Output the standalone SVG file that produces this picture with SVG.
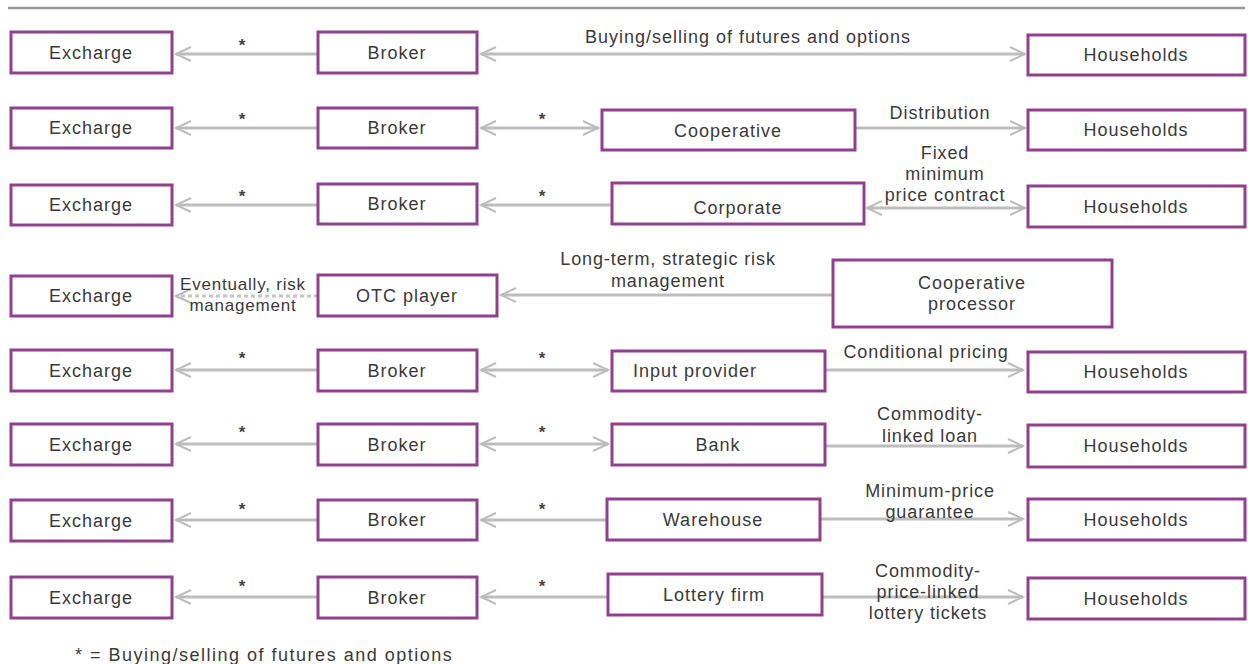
<svg xmlns="http://www.w3.org/2000/svg" width="1248" height="664" viewBox="0 0 1248 664">
<defs>
<marker id="ah" markerUnits="userSpaceOnUse" markerWidth="20" markerHeight="18" viewBox="0 0 20 18" refX="17" refY="9" orient="auto-start-reverse">
<path d="M2,2 L17,9 L2,16" fill="none" stroke="#bdbdbd" stroke-width="2"/>
</marker>
</defs>
<style>
.box{fill:#fff;stroke:#90408e;stroke-width:3}
.t{font-family:"Liberation Sans",Arial,sans-serif;font-size:18px;letter-spacing:1px;fill:#3a3a3a;text-anchor:middle}
.lbl{font-family:"Liberation Sans",Arial,sans-serif;font-size:18px;letter-spacing:0.9px;fill:#3a3a3a;text-anchor:middle}
.lbs{font-family:"Liberation Sans",Arial,sans-serif;font-size:17px;letter-spacing:0.8px;fill:#3a3a3a;text-anchor:middle}
.st{font-family:"Liberation Sans",Arial,sans-serif;font-size:17px;font-weight:bold;fill:#444;text-anchor:middle}
.c{stroke:#bdbdbd;stroke-width:3;fill:none}
.dash{stroke:#c4c4c4;stroke-width:3;fill:none;stroke-dasharray:4 3}
</style>
<rect width="1248" height="664" fill="#fff"/>
<line x1="8" y1="8" x2="1245" y2="8" stroke="#9a9a9a" stroke-width="2.5"/>

<g id="connectors">
<line class="c" x1="318" y1="54" x2="176" y2="54" marker-end="url(#ah)"/>
<line class="c" x1="481" y1="54" x2="1025" y2="54" marker-start="url(#ah)" marker-end="url(#ah)"/>
<line class="c" x1="318" y1="128" x2="176" y2="128" marker-end="url(#ah)"/>
<line class="c" x1="481" y1="128" x2="598" y2="128" marker-start="url(#ah)" marker-end="url(#ah)"/>
<line class="c" x1="855" y1="128" x2="1025" y2="128" marker-end="url(#ah)"/>
<line class="c" x1="318" y1="205" x2="176" y2="205" marker-end="url(#ah)"/>
<line class="c" x1="612" y1="205" x2="481" y2="205" marker-end="url(#ah)"/>
<line class="c" x1="867" y1="208" x2="1025" y2="208" marker-start="url(#ah)" marker-end="url(#ah)"/>
<line class="dash" x1="318" y1="296" x2="176" y2="296" marker-end="url(#ah)"/>
<line class="c" x1="833" y1="295" x2="501" y2="295" marker-end="url(#ah)"/>
<line class="c" x1="318" y1="370" x2="176" y2="370" marker-end="url(#ah)"/>
<line class="c" x1="481" y1="370" x2="608" y2="370" marker-start="url(#ah)" marker-end="url(#ah)"/>
<line class="c" x1="825" y1="370" x2="1023" y2="370" marker-end="url(#ah)"/>
<line class="c" x1="318" y1="444" x2="176" y2="444" marker-end="url(#ah)"/>
<line class="c" x1="481" y1="444" x2="608" y2="444" marker-start="url(#ah)" marker-end="url(#ah)"/>
<line class="c" x1="825" y1="446" x2="1023" y2="446" marker-end="url(#ah)"/>
<line class="c" x1="318" y1="520" x2="176" y2="520" marker-end="url(#ah)"/>
<line class="c" x1="607" y1="520" x2="481" y2="520" marker-end="url(#ah)"/>
<line class="c" x1="820" y1="519" x2="1023" y2="519" marker-end="url(#ah)"/>
<line class="c" x1="318" y1="597" x2="176" y2="597" marker-end="url(#ah)"/>
<line class="c" x1="608" y1="597" x2="481" y2="597" marker-end="url(#ah)"/>
<line class="c" x1="822" y1="597" x2="1023" y2="597" marker-end="url(#ah)"/>

<text class="st" x="242" y="51">*</text>
<text class="st" x="242" y="125">*</text>
<text class="st" x="542" y="125">*</text>
<text class="st" x="242" y="202">*</text>
<text class="st" x="542" y="202">*</text>
<text class="st" x="242" y="364">*</text>
<text class="st" x="542" y="364">*</text>
<text class="st" x="242" y="438">*</text>
<text class="st" x="542" y="438">*</text>
<text class="st" x="242" y="515">*</text>
<text class="st" x="542" y="515">*</text>
<text class="st" x="242" y="592">*</text>
<text class="st" x="542" y="592">*</text>

<text class="t" x="748" y="43">Buying/selling of futures and options</text>
<text class="lbl" x="940" y="119">Distribution</text>
<text class="lbl" x="945" y="159">Fixed</text>
<text class="lbl" x="945" y="180">minimum</text>
<text class="lbl" x="945" y="201">price contract</text>
<text class="lbs" x="243" y="290">Eventually, risk</text>
<text class="lbs" x="243" y="311">management</text>
<text class="lbl" x="668" y="265">Long-term, strategic risk</text>
<text class="lbl" x="668" y="287">management</text>
<text class="lbl" x="926" y="358">Conditional pricing</text>
<text class="lbl" x="930" y="420">Commodity-</text>
<text class="lbl" x="930" y="442">linked loan</text>
<text class="lbl" x="930" y="497">Minimum-price</text>
<text class="lbl" x="930" y="518">guarantee</text>
<text class="lbl" x="928" y="577">Commodity-</text>
<text class="lbl" x="928" y="598">price-linked</text>
<text class="lbl" x="928" y="619">lottery tickets</text>
</g>

<g id="exchange1"><rect class="box" x="11" y="32" width="161" height="41"/><text class="t" x="91" y="59">Excharge</text></g>
<g id="broker1"><rect class="box" x="318" y="32" width="159" height="41"/><text class="t" x="397" y="59">Broker</text></g>
<g id="households1"><rect class="box" x="1028" y="35" width="217" height="40"/><text class="t" x="1136" y="61">Households</text></g>

<g id="exchange2"><rect class="box" x="11" y="108" width="161" height="40"/><text class="t" x="91" y="134">Excharge</text></g>
<g id="broker2"><rect class="box" x="318" y="108" width="159" height="40"/><text class="t" x="397" y="134">Broker</text></g>
<g id="cooperative"><rect class="box" x="602" y="110" width="253" height="40"/><text class="t" x="728" y="137">Cooperative</text></g>
<g id="households2"><rect class="box" x="1028" y="110" width="217" height="40"/><text class="t" x="1136" y="136">Households</text></g>

<g id="exchange3"><rect class="box" x="11" y="185" width="161" height="40"/><text class="t" x="91" y="211">Excharge</text></g>
<g id="broker3"><rect class="box" x="318" y="184" width="159" height="40"/><text class="t" x="397" y="210">Broker</text></g>
<g id="corporate"><rect class="box" x="612" y="183" width="252" height="41"/><text class="t" x="738" y="214">Corporate</text></g>
<g id="households3"><rect class="box" x="1028" y="186" width="217" height="41"/><text class="t" x="1136" y="213">Households</text></g>

<g id="exchange4"><rect class="box" x="11" y="276" width="161" height="40"/><text class="t" x="91" y="302">Excharge</text></g>
<g id="otc"><rect class="box" x="318" y="275" width="179" height="41"/><text class="t" x="407" y="302">OTC player</text></g>
<g id="coopproc"><rect class="box" x="833" y="260" width="279" height="67"/><text class="t" x="972" y="289">Cooperative</text><text class="t" x="972" y="310">processor</text></g>

<g id="exchange5"><rect class="box" x="11" y="350" width="161" height="41"/><text class="t" x="91" y="377">Excharge</text></g>
<g id="broker5"><rect class="box" x="318" y="350" width="159" height="41"/><text class="t" x="397" y="377">Broker</text></g>
<g id="input"><rect class="box" x="612" y="351" width="213" height="40"/><text class="t" x="695" y="377">Input provider</text></g>
<g id="households5"><rect class="box" x="1028" y="352" width="217" height="40"/><text class="t" x="1136" y="378">Households</text></g>

<g id="exchange6"><rect class="box" x="11" y="424" width="161" height="41"/><text class="t" x="91" y="451">Excharge</text></g>
<g id="broker6"><rect class="box" x="318" y="424" width="159" height="41"/><text class="t" x="397" y="451">Broker</text></g>
<g id="bank"><rect class="box" x="612" y="424" width="213" height="41"/><text class="t" x="718" y="451">Bank</text></g>
<g id="households6"><rect class="box" x="1028" y="425" width="217" height="42"/><text class="t" x="1136" y="452">Households</text></g>

<g id="exchange7"><rect class="box" x="11" y="500" width="161" height="41"/><text class="t" x="91" y="527">Excharge</text></g>
<g id="broker7"><rect class="box" x="318" y="500" width="159" height="40"/><text class="t" x="397" y="526">Broker</text></g>
<g id="warehouse"><rect class="box" x="607" y="499" width="213" height="41"/><text class="t" x="713" y="526">Warehouse</text></g>
<g id="households7"><rect class="box" x="1028" y="499" width="217" height="41"/><text class="t" x="1136" y="526">Households</text></g>

<g id="exchange8"><rect class="box" x="11" y="577" width="161" height="41"/><text class="t" x="91" y="604">Excharge</text></g>
<g id="broker8"><rect class="box" x="318" y="577" width="159" height="41"/><text class="t" x="397" y="604">Broker</text></g>
<g id="lottery"><rect class="box" x="608" y="574" width="214" height="41"/><text class="t" x="714" y="601">Lottery firm</text></g>
<g id="households8"><rect class="box" x="1028" y="578" width="217" height="41"/><text class="t" x="1136" y="605">Households</text></g>

<text x="75" y="661" font-family="'Liberation Sans',Arial,sans-serif" font-size="18" letter-spacing="1.5" fill="#3a3a3a">* = Buying/selling of futures and options</text>
</svg>
